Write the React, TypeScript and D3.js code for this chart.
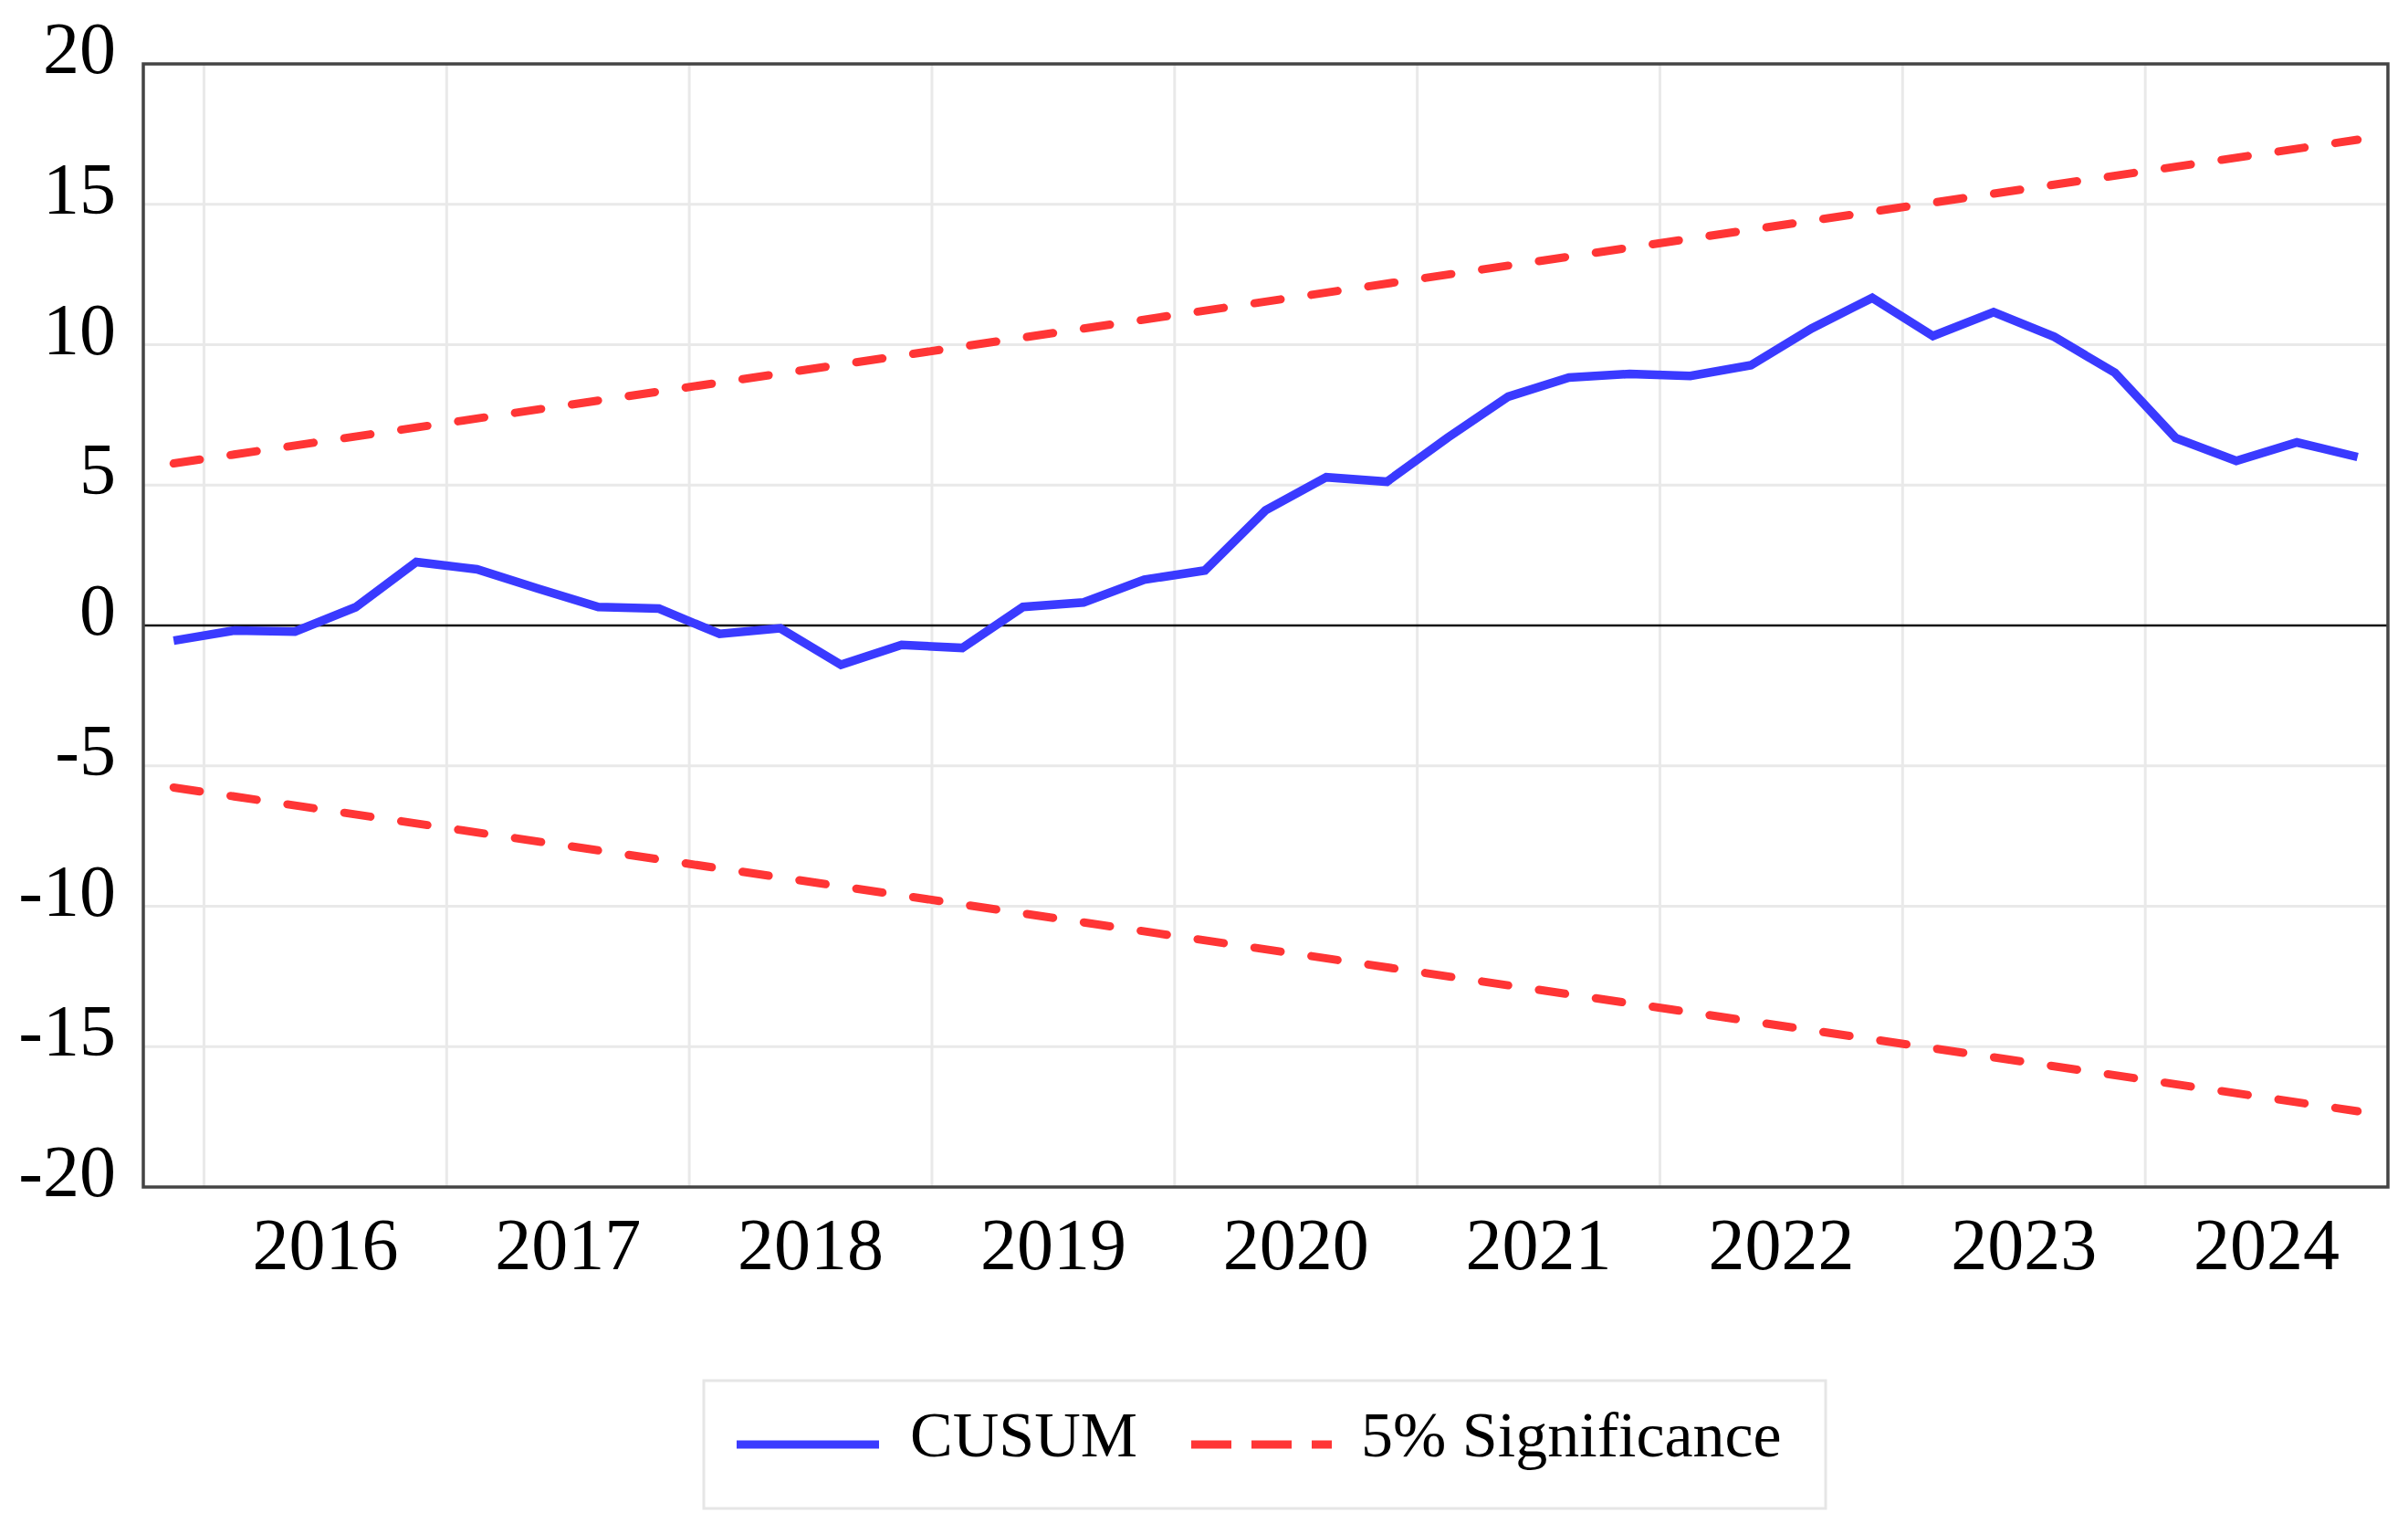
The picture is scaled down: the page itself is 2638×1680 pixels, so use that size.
import React from "react";
import * as d3 from "d3";

// ---- Data ----
const quarters: string[] = [
  "2015Q4",
  "2016Q1", "2016Q2", "2016Q3", "2016Q4",
  "2017Q1", "2017Q2", "2017Q3", "2017Q4",
  "2018Q1", "2018Q2", "2018Q3", "2018Q4",
  "2019Q1", "2019Q2", "2019Q3", "2019Q4",
  "2020Q1", "2020Q2", "2020Q3", "2020Q4",
  "2021Q1", "2021Q2", "2021Q3", "2021Q4",
  "2022Q1", "2022Q2", "2022Q3", "2022Q4",
  "2023Q1", "2023Q2", "2023Q3", "2023Q4",
  "2024Q1", "2024Q2", "2024Q3", "2024Q4",
];

const cusum: number[] = [
  -0.54,
  -0.18, -0.22, 0.65, 2.26,
  2.0, 1.32, 0.66, 0.6,
  -0.3, -0.1, -1.4, -0.69,
  -0.8, 0.66, 0.82, 1.63,
  1.96, 4.1, 5.28, 5.12,
  6.69, 8.15, 8.83, 8.96,
  8.89, 9.27, 10.58, 11.67,
  10.31, 11.16, 10.28, 9.0,
  6.68, 5.86, 6.52, 6.0,
];

// 5% significance bounds: values at the first and last observation
const boundQuarters: string[] = ["2015Q4", "2024Q4"];
const upperBound: number[] = [5.77, 17.3];
const lowerBound: number[] = [-5.77, -17.3];

const yTicks: number[] = [20, 15, 10, 5, 0, -5, -10, -15, -20];
const yearLabels: string[] = ["2016", "2017", "2018", "2019", "2020", "2021", "2022", "2023", "2024"];

const legendItems = [
  { label: "CUSUM", kind: "solid" },
  { label: "5% Significance", kind: "dash" },
];

// ---- Layout ----
const W = 2638;
const H = 1680;
const L = 157;
const R = 2616;
const T = 70;
const B = 1300;

const BLUE = "#3a3aff";
const RED = "#ff3535";
const FONT = "'Liberation Serif', 'Times New Roman', serif";

export default function App() {
  const x = d3.scalePoint<string>().domain(quarters).range([L, R]).padding(0.5);
  const step = x.step();
  const y = d3.scaleLinear().domain([-20, 20]).range([B, T]);

  const line = d3
    .line<number>()
    .x((_, i) => x(quarters[i]) as number)
    .y((d) => y(d));

  const boundLine = d3
    .line<number>()
    .x((_, i) => x(boundQuarters[i]) as number)
    .y((d) => y(d));

  const yearBoundaries = yearLabels.map((yr) => (x(yr + "Q1") as number) - step / 2);
  const yearCenters = yearLabels.map(
    (yr) => ((x(yr + "Q2") as number) + (x(yr + "Q3") as number)) / 2
  );

  const dash = "29 34";

  return (
    <svg
      width={W}
      height={H}
      viewBox={`0 0 ${W} ${H}`}
      style={{ position: "absolute", left: 0, top: 0, display: "block", background: "#fff" }}
    >
      <rect x={0} y={0} width={W} height={H} fill="#fff" />
      {/* vertical gridlines */}
      {yearBoundaries.map((gx, i) => (
        <line key={"vg" + i} x1={gx} x2={gx} y1={T} y2={B} stroke="#e9e9e9" strokeWidth={3} />
      ))}
      {/* horizontal gridlines */}
      {yTicks
        .filter((t) => t !== 0 && t !== 20 && t !== -20)
        .map((t) => (
          <line key={"hg" + t} x1={L} x2={R} y1={y(t)} y2={y(t)} stroke="#e9e9e9" strokeWidth={3} />
        ))}
      {/* zero line */}
      <line x1={L} x2={R} y1={y(0)} y2={y(0)} stroke="#111" strokeWidth={2.5} />

      {/* significance bounds */}
      <path
        d={boundLine(upperBound) || ""}
        fill="none"
        stroke={RED}
        strokeWidth={9}
        strokeDasharray={dash}
        strokeLinecap="round"
      />
      <path
        d={boundLine(lowerBound) || ""}
        fill="none"
        stroke={RED}
        strokeWidth={9}
        strokeDasharray={dash}
        strokeLinecap="round"
      />
      {/* CUSUM */}
      <path
        d={line(cusum) || ""}
        fill="none"
        stroke={BLUE}
        strokeWidth={9.5}
        strokeLinejoin="miter"
      />

      {/* frame */}
      <rect x={L} y={T} width={R - L} height={B - T} fill="none" stroke="#444" strokeWidth={3.5} />

      {/* y tick labels */}
      {yTicks.map((t) => (
        <text
          key={"yt" + t}
          x={127}
          y={y(t) + 10}
          textAnchor="end"
          fontFamily={FONT}
          fontSize={80}
          fill="#000"
        >
          {t}
        </text>
      ))}
      {/* x labels */}
      {yearLabels.map((yr, i) => (
        <text
          key={"xl" + yr}
          x={yearCenters[i]}
          y={1390}
          textAnchor="middle"
          fontFamily={FONT}
          fontSize={80}
          fill="#000"
        >
          {yr}
        </text>
      ))}

      {/* legend */}
      <rect x={771} y={1512} width={1229} height={140} fill="#fff" stroke="#e6e6e6" strokeWidth={3} />
      <line x1={807} x2={963} y1={1582} y2={1582} stroke={BLUE} strokeWidth={9} />
      <text x={997} y={1595} fontFamily={FONT} fontSize={70} fill="#000">
        {legendItems[0].label}
      </text>
      <line
        x1={1305}
        x2={1459}
        y1={1582}
        y2={1582}
        stroke={RED}
        strokeWidth={9}
        strokeDasharray="44 22"
      />
      <text x={1491} y={1595} fontFamily={FONT} fontSize={70} fill="#000">
        {legendItems[1].label}
      </text>
    </svg>
  );
}
